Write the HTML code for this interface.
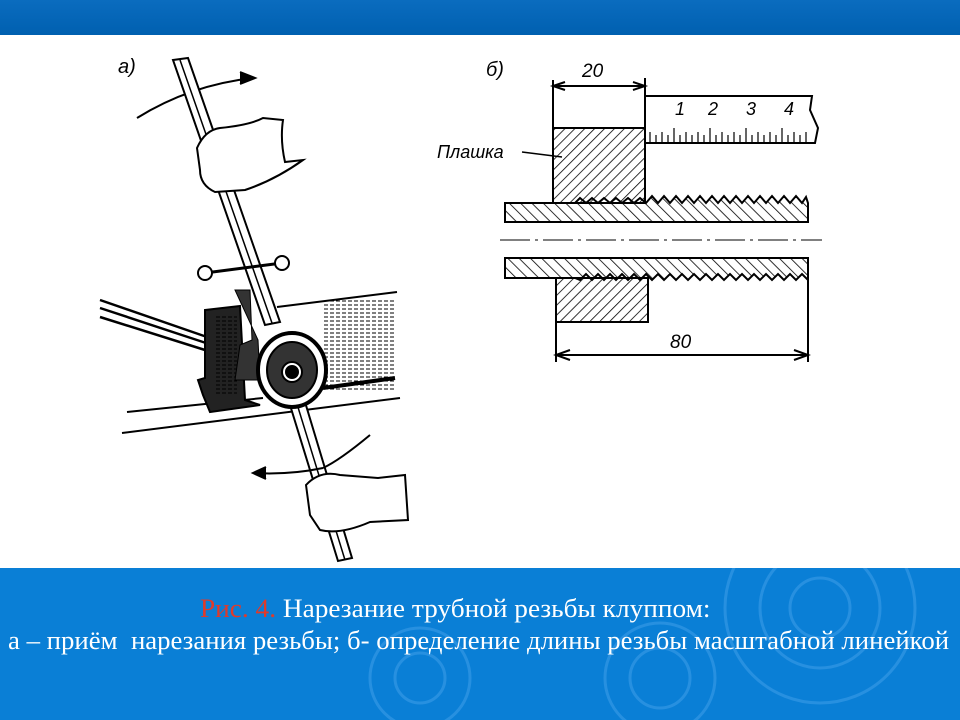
<!DOCTYPE html>
<html><head><meta charset="utf-8"><style>
html,body{margin:0;padding:0;width:960px;height:720px;overflow:hidden;background:#fff}
.top{position:absolute;left:0;top:0;width:960px;height:35px;background:linear-gradient(#0a6cbf,#0060b0)}
.bot{position:absolute;left:0;top:568px;width:960px;height:152px;background:#0a7fd6;overflow:hidden}
.cap{position:absolute;font-family:"Liberation Serif",serif;font-size:26px;color:#fff;white-space:nowrap;transform-origin:0 0}
svg{position:absolute;left:0;top:0}
</style></head><body>
<div class="top"></div>
<svg width="960" height="720" viewBox="0 0 960 720">
<defs>
<pattern id="h1" width="7" height="7" patternUnits="userSpaceOnUse" patternTransform="rotate(45)"><line x1="0" y1="0" x2="0" y2="7" stroke="#000" stroke-width="1.6"/></pattern>
<pattern id="h2" width="8" height="8" patternUnits="userSpaceOnUse" patternTransform="rotate(-45)"><line x1="0" y1="0" x2="0" y2="8" stroke="#000" stroke-width="1.6"/></pattern>
<pattern id="hz" width="6" height="4" patternUnits="userSpaceOnUse"><line x1="0" y1="1" x2="4" y2="1" stroke="#000" stroke-width="1"/></pattern>
</defs>
<g fill="none" stroke="#000" stroke-width="2" font-family="Liberation Sans,sans-serif" font-style="italic">
<text x="118" y="73" font-size="20" fill="#000" stroke="none">a)</text>
<path d="M137 118 Q190 85 253 78"/><path d="M240 72 L255 78 L240 84" fill="#000"/>
<path d="M100 300 L207 337 M100 317 L205 350 M100 308 L206 343" stroke-width="2.5"/>
<path d="M277 307 L397 292 M127 412 L263 398 M122 433 L400 398"/>
<rect x="323" y="300" width="72" height="92" fill="url(#hz)" stroke="none"/>
<path d="M323 388 L395 378" stroke-width="4"/>
<path d="M205 310 L240 306 L245 400 L260 405 L210 412 L203 395 L198 380 L205 378 Z" fill="#222"/>
<rect x="215" y="315" width="22" height="80" fill="url(#hz)" stroke="none"/>
<path d="M235 290 L250 290 L252 340 L240 345 L235 380 L260 380 L258 340 Z" fill="#333" stroke-width="1"/>
<path d="M173 60 L188 58 L280 322 L265 325 Z" fill="#fff" stroke-width="2"/>
<line x1="180" y1="60" x2="272" y2="323" stroke-width="1.5"/>
<path d="M290 405 L305 402 L352 558 L338 561 Z" fill="#fff" stroke-width="2"/>
<line x1="297" y1="404" x2="345" y2="560" stroke-width="1.5"/>
<path d="M205 273 L282 263" stroke-width="3"/>
<circle cx="205" cy="273" r="7" fill="#fff"/><circle cx="282" cy="263" r="7" fill="#fff"/>
<ellipse cx="292" cy="370" rx="34" ry="37" fill="#fff" stroke-width="4"/>
<ellipse cx="292" cy="370" rx="25" ry="28" fill="#333"/>
<circle cx="292" cy="372" r="10" fill="#fff"/><circle cx="292" cy="372" r="6" fill="#000"/>
<path d="M197 148 Q205 130 220 128 Q250 125 263 118 L283 120 Q280 140 285 162 L303 160 Q275 180 245 190 L215 192 Q200 185 200 170 Z" fill="#fff"/>
<path d="M370 435 Q340 460 323 468"/><path d="M323 468 Q290 475 253 473"/><path d="M266 467 L253 473 L266 479" fill="#000"/>
<path d="M306 485 Q320 470 340 475 L378 478 L405 475 L408 520 L370 522 Q340 535 320 530 L310 515 Z" fill="#fff"/>
<text x="486" y="76" font-size="20" fill="#000" stroke="none">б)</text>
<text x="582" y="77" font-size="19" fill="#000" stroke="none">20</text>
<line x1="553" y1="80" x2="553" y2="128"/><line x1="645" y1="78" x2="645" y2="200"/>
<line x1="553" y1="86" x2="645" y2="86"/><path d="M565 82 L553 86 L565 90 M633 82 L645 86 L633 90"/>
<path d="M645 96 L812 96 L810 110 L818 128 L815 143 L645 143"/>
<g font-size="18" fill="#000" stroke="none"><text x="675" y="115">1</text><text x="708" y="115">2</text><text x="746" y="115">3</text><text x="784" y="115">4</text></g>
<path d="M650 143 V132 M656 143 V135 M662 143 V132 M668 143 V135 M674 143 V128 M680 143 V135 M686 143 V132 M692 143 V135 M698 143 V132 M704 143 V135 M710 143 V128 M716 143 V135 M722 143 V132 M728 143 V135 M734 143 V132 M740 143 V135 M746 143 V128 M752 143 V135 M758 143 V132 M764 143 V135 M770 143 V132 M776 143 V135 M782 143 V128 M788 143 V135 M794 143 V132 M800 143 V135 M806 143 V132" stroke-width="1.2"/>
<text x="437" y="158" font-size="18" fill="#000" stroke="none">Плашка</text>
<line x1="522" y1="152" x2="562" y2="157" stroke-width="1.5"/>
<rect x="553" y="128" width="92" height="75" fill="url(#h1)"/>
<rect x="556" y="278" width="92" height="44" fill="url(#h1)"/>
<path d="M505 203 L575 203 L580 198 L586 203 L592 198 L598 203 L604 198 L610 203 L616 198 L622 203 L628 198 L634 203 L640 198 L646 203 L652 196 L658 203 L664 196 L670 203 L676 196 L682 203 L688 196 L694 203 L700 196 L706 203 L712 196 L718 203 L724 196 L730 203 L736 196 L742 203 L748 196 L754 203 L760 196 L766 203 L772 196 L778 203 L784 196 L790 203 L796 196 L802 203 L806 197 L808 203 L808 222 L505 222 Z" fill="url(#h2)"/>
<path d="M505 258 L808 258 L808 280 L802 274 L796 280 L790 274 L784 280 L778 274 L772 280 L766 274 L760 280 L754 274 L748 280 L742 274 L736 280 L730 274 L724 280 L718 274 L712 280 L706 274 L700 280 L694 274 L688 280 L682 274 L676 280 L670 274 L664 280 L658 274 L652 280 L646 274 L640 280 L634 274 L628 280 L622 274 L616 280 L610 274 L604 280 L598 274 L592 280 L586 274 L580 280 L575 278 L505 278 Z" fill="url(#h2)"/>
<line x1="500" y1="240" x2="822" y2="240" stroke-width="1" stroke-dasharray="30 5 3 5"/>
<line x1="556" y1="322" x2="556" y2="362"/><line x1="808" y1="280" x2="808" y2="362"/>
<line x1="556" y1="355" x2="808" y2="355"/><path d="M570 350 L556 355 L570 360 M794 350 L808 355 L794 360"/>
<text x="670" y="348" font-size="19" fill="#000" stroke="none">80</text>
</g>
</svg>
<div class="bot">
<svg width="960" height="152" viewBox="0 0 960 152" style="opacity:.25">
<g fill="none" stroke="#7fc4ff" stroke-width="3"><circle cx="820" cy="40" r="30"/><circle cx="820" cy="40" r="60"/><circle cx="820" cy="40" r="95"/><circle cx="420" cy="110" r="25"/><circle cx="420" cy="110" r="50"/><circle cx="660" cy="110" r="30"/><circle cx="660" cy="110" r="55"/></g>
</svg>
<div class="cap" style="left:200px;top:26px;transform:scaleX(1.05)"><span style="color:#e03a2a">Рис. 4.</span> Нарезание трубной резьбы клуппом:</div>
<div class="cap" style="left:8px;top:58px;transform:scaleX(1.03)">а – приём&nbsp; нарезания резьбы; б- определение длины резьбы масштабной линейкой</div>
</div>
</body></html>
